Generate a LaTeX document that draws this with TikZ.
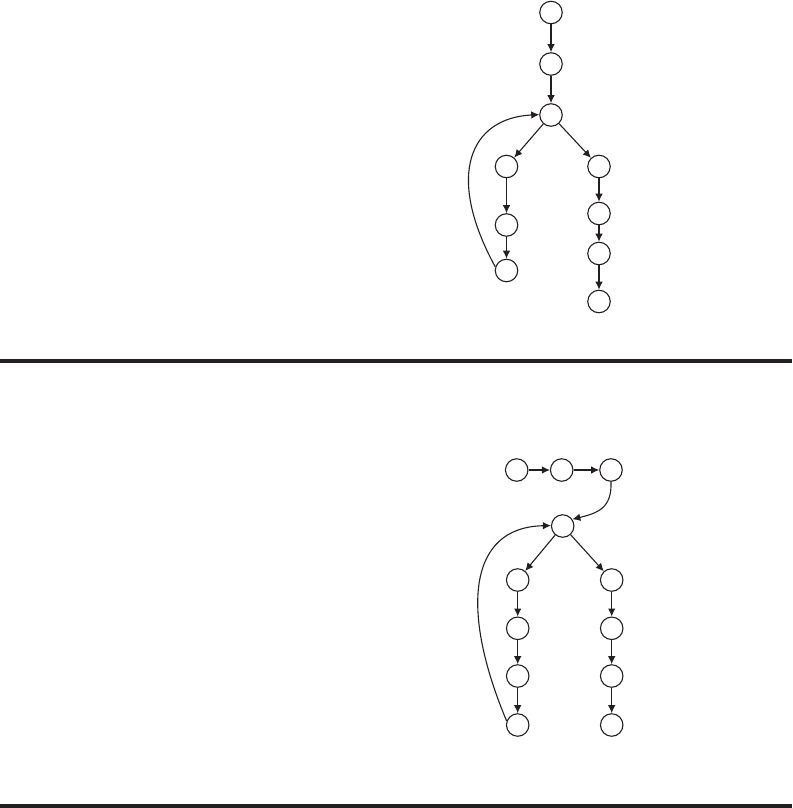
\documentclass[tikz,border=0pt]{standalone}
\usetikzlibrary{arrows.meta}
\definecolor{ink}{HTML}{231F20}
\begin{document}
\begin{tikzpicture}[x=1pt,y=-1pt,
  vtx/.style={circle,draw=ink,line width=1.1pt,minimum size=22.5pt,inner sep=0pt},
  arr/.style={draw=ink,line width=1.1pt,-{Latex[length=8pt,width=7.5pt]}},
  rule/.style={draw=ink,line width=4pt}]
\useasboundingbox (0,0) rectangle (792,808);
% top graph
\node[vtx] (t1) at (551,12.5) {};
\node[vtx] (t2) at (551,64) {};
\node[vtx] (t3) at (551,115) {};
\node[vtx] (tl1) at (506.5,166.5) {};
\node[vtx] (tl2) at (506.5,225) {};
\node[vtx] (tl3) at (506.5,270.5) {};
\node[vtx] (tr1) at (599,166.5) {};
\node[vtx] (tr2) at (599,213.5) {};
\node[vtx] (tr3) at (599,253.5) {};
\node[vtx] (tr4) at (599,301.5) {};
\draw[arr] (t1) -- (t2);
\draw[arr] (t2) -- (t3);
\draw[arr] (t3) -- (tl1);
\draw[arr] (t3) -- (tr1);
\draw[arr] (tl1) -- (tl2);
\draw[arr] (tl2) -- (tl3);
\draw[arr] (tr1) -- (tr2);
\draw[arr] (tr2) -- (tr3);
\draw[arr] (tr3) -- (tr4);
\draw[arr] (tl3.162) .. controls (445,175) and (470,118) .. (t3.178);
% rule 1
\coordinate (r1a) at (0,361);
\coordinate (r1b) at (792,361);
\draw[rule] (r1a) -- (r1b);
% bottom graph
\node[vtx] (a1) at (516.7,470) {};
\node[vtx] (a2) at (561.7,470) {};
\node[vtx] (a3) at (611,470) {};
\node[vtx] (c) at (562.7,526) {};
\node[vtx] (bl1) at (517.7,580) {};
\node[vtx] (bl2) at (517.7,628.3) {};
\node[vtx] (bl3) at (517.7,676) {};
\node[vtx] (bl4) at (517.7,725) {};
\node[vtx] (br1) at (611.7,580) {};
\node[vtx] (br2) at (611.7,628.3) {};
\node[vtx] (br3) at (611.7,676) {};
\node[vtx] (br4) at (611.7,725) {};
\draw[arr] (a1) -- (a2);
\draw[arr] (a2) -- (a3);
\draw[arr] (a3.south) .. controls (612,508) and (598,513) .. (c.35);
\draw[arr] (c) -- (bl1);
\draw[arr] (c) -- (br1);
\draw[arr] (bl1) -- (bl2);
\draw[arr] (bl2) -- (bl3);
\draw[arr] (bl3) -- (bl4);
\draw[arr] (br1) -- (br2);
\draw[arr] (br2) -- (br3);
\draw[arr] (br3) -- (br4);
\draw[arr] (bl4.160) .. controls (460,610) and (468,527) .. (c.178);
% rule 2
\coordinate (r2a) at (0,806);
\coordinate (r2b) at (792,806);
\draw[rule] (r2a) -- (r2b);
\end{tikzpicture}
\end{document}
